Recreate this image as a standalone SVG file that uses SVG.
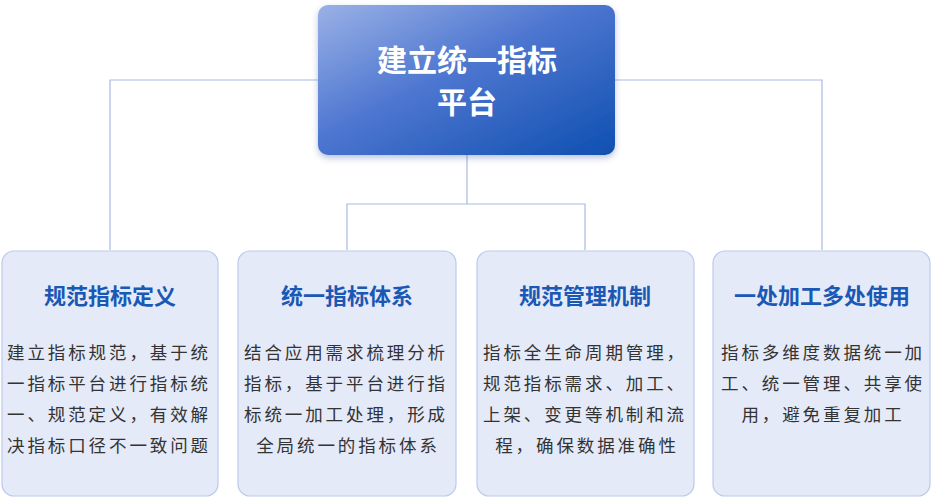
<svg xmlns="http://www.w3.org/2000/svg" width="933" height="498" viewBox="0 0 933 498">
<style>
.card{fill:#e5eaf8;stroke:#bccaee;stroke-width:1.2}
.t{font-family:"Noto Sans CJK SC",sans-serif;font-weight:bold;font-size:22px;fill:#1a58b5;text-anchor:middle}
.b{font-family:"Noto Sans CJK SC",sans-serif;font-size:17.5px;fill:#333;letter-spacing:2.9px}
.c{text-anchor:middle}
.ln{stroke:#a9b9e3;stroke-width:1.2;fill:none}
</style>
<defs>
<linearGradient id="g" x1="0" y1="0" x2="1" y2="1">
<stop offset="0" stop-color="#9ab1e6"/><stop offset="0.45" stop-color="#4d76d0"/><stop offset="1" stop-color="#0f4fb0"/>
</linearGradient>
<filter id="s" x="-10%" y="-10%" width="120%" height="130%"><feDropShadow dx="0" dy="3" stdDeviation="3" flood-color="#3050a0" flood-opacity="0.35"/></filter>
</defs>
<rect width="933" height="498" fill="#fff"/>
<g id="connectors">
<path class="ln" d="M318 80H110V250M615 80H822V250M467 155V204M347 250V204H585V250"/>
</g>
<g id="top">
<rect x="318" y="5" width="297" height="150" rx="10" fill="url(#g)" filter="url(#s)"/>
<text x="467" y="71" font-family="Noto Sans CJK SC,sans-serif" font-weight="bold" font-size="30" fill="#fff" text-anchor="middle">建立统一指标</text>
<text x="467" y="113" font-family="Noto Sans CJK SC,sans-serif" font-weight="bold" font-size="30" fill="#fff" text-anchor="middle">平台</text>
</g>
<g id="card1">
<rect class="card" x="2" y="251" width="216" height="245" rx="12"/>
<text class="t" x="110" y="304">规范指标定义</text>
<text class="b" x="7" y="359">建立指标规范，基于统</text>
<text class="b" x="7" y="390">一指标平台进行指标统</text>
<text class="b" x="7" y="421">一、规范定义，有效解</text>
<text class="b" x="7" y="452">决指标口径不一致问题</text>
</g>
<g id="card2">
<rect class="card" x="238" y="251" width="218" height="245" rx="12"/>
<text class="t" x="347" y="304">统一指标体系</text>
<text class="b" x="244" y="359">结合应用需求梳理分析</text>
<text class="b" x="244" y="390">指标，基于平台进行指</text>
<text class="b" x="244" y="421">标统一加工处理，形成</text>
<text class="b c" x="348" y="452">全局统一的指标体系</text>
</g>
<g id="card3">
<rect class="card" x="477" y="251" width="217" height="245" rx="12"/>
<text class="t" x="585" y="304">规范管理机制</text>
<text class="b" x="483" y="359">指标全生命周期管理，</text>
<text class="b" x="483" y="390">规范指标需求、加工、</text>
<text class="b" x="483" y="421">上架、变更等机制和流</text>
<text class="b c" x="587" y="452">程，确保数据准确性</text>
</g>
<g id="card4">
<rect class="card" x="713" y="251" width="217" height="245" rx="12"/>
<text class="t" x="822" y="304">一处加工多处使用</text>
<text class="b c" x="823" y="359">指标多维度数据统一加</text>
<text class="b c" x="823" y="390">工、统一管理、共享使</text>
<text class="b c" x="823" y="421">用，避免重复加工</text>
</g>
</svg>
